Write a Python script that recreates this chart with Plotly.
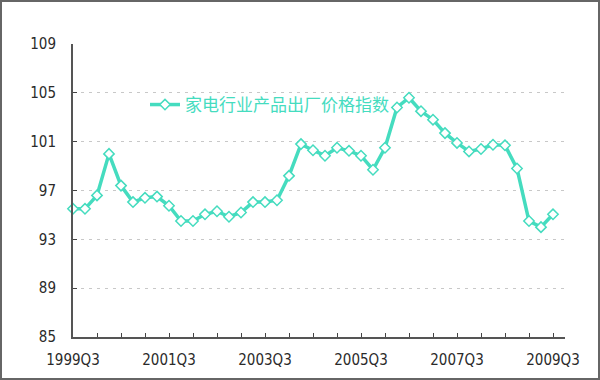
import plotly.graph_objects as go

quarters = ["1999Q3","1999Q4","2000Q1","2000Q2","2000Q3","2000Q4","2001Q1","2001Q2",
            "2001Q3","2001Q4","2002Q1","2002Q2","2002Q3","2002Q4","2003Q1","2003Q2",
            "2003Q3","2003Q4","2004Q1","2004Q2","2004Q3","2004Q4","2005Q1","2005Q2",
            "2005Q3","2005Q4","2006Q1","2006Q2","2006Q3","2006Q4","2007Q1","2007Q2",
            "2007Q3","2007Q4","2008Q1","2008Q2","2008Q3","2008Q4","2009Q1","2009Q2",
            "2009Q3"]
index_values = [95.5, 95.5, 96.6, 100.0, 97.4, 96.05, 96.4, 96.5, 95.75, 94.5,
                94.5, 95.05, 95.3, 94.85, 95.2, 96.05, 96.05, 96.2, 98.2, 100.8,
                100.3, 99.85, 100.5, 100.25, 99.85, 98.7, 100.5, 103.8, 104.6, 103.5,
                102.8, 101.7, 100.9, 100.2, 100.4, 100.75, 100.7, 98.8, 94.5, 94.0,
                95.05]
series_name = "家电行业产品出厂价格指数"
y_ticks = [85, 89, 93, 97, 101, 105, 109]
label_quarters = ["1999Q3", "2001Q3", "2003Q3", "2005Q3", "2007Q3", "2009Q3"]

teal = "#45dcbf"
W, H = 600, 380
ml, mr, mt, mb = 73, 35, 44, 43
pw, ph = W - ml - mr, H - mt - mb

x = list(range(len(quarters)))
tickvals = [i for i in x if i % 2 == 0]
ticktext = [quarters[i] if quarters[i] in label_quarters else "" for i in tickvals]

fig = go.Figure()
fig.add_trace(go.Scatter(
    x=x, y=index_values, name=series_name, mode="lines+markers",
    line=dict(color=teal, width=3.5),
    marker=dict(symbol="diamond", size=8, color="white", line=dict(color=teal, width=1.5)),
    cliponaxis=False,
))

def px_x(p):
    return (p - ml) / pw
def px_y(p):
    return (H - mb - p) / ph

fig.update_layout(
    width=W, height=H,
    margin=dict(l=ml, r=mr, t=mt, b=mb),
    paper_bgcolor="white", plot_bgcolor="white",
    font=dict(family="Liberation Sans Narrow, DejaVu Sans Condensed, sans-serif", color="#2a2a2a", size=15),
    showlegend=True,
    legend=dict(x=px_x(145), y=px_y(105), xanchor="left", yanchor="middle",
                bgcolor="rgba(0,0,0,0)",
                font=dict(family="Noto Sans CJK SC", size=17, color=teal)),
    xaxis=dict(range=[0, 41], tickvals=tickvals, ticktext=ticktext,
               ticks="inside", ticklen=4, tickcolor="#444444", tickwidth=1,
               ticklabelstandoff=8,
               showgrid=False, showline=True, linecolor="#555555", linewidth=2,
               zeroline=False, tickangle=0),
    yaxis=dict(range=[85, 109], tickvals=y_ticks, ticks="inside", ticklen=4,
               ticklabelstandoff=12,
               tickcolor="#444444", showgrid=True, gridcolor="#c8c8c8",
               griddash="3px,5px", gridwidth=1, showline=True,
               linecolor="#555555", linewidth=2, zeroline=False),
    shapes=[dict(type="rect", xref="paper", yref="paper",
                 x0=px_x(1), x1=px_x(W - 1), y0=px_y(H - 1), y1=px_y(1),
                 line=dict(color="#666666", width=2), layer="below")],
)

fig.write_html("out.html")
